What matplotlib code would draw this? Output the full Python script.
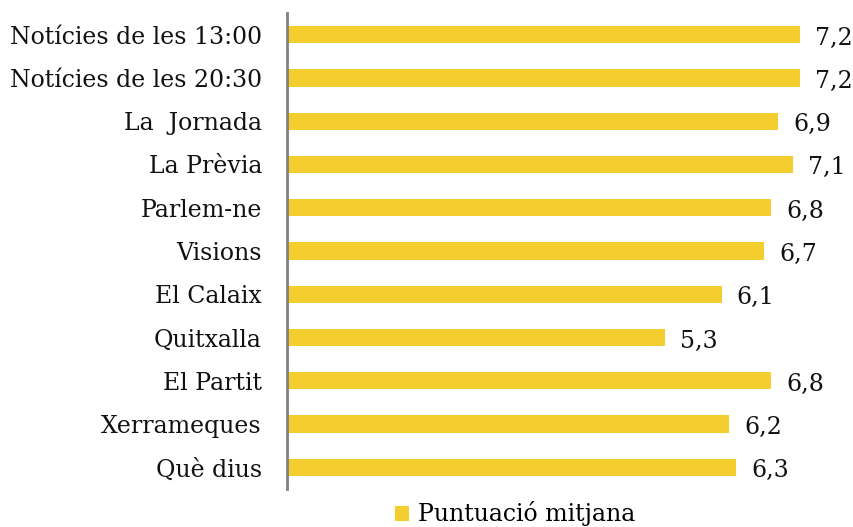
import matplotlib
matplotlib.use("Agg")
import matplotlib.pyplot as plt

categories = ["Notícies de les 13:00", "Notícies de les 20:30", "La  Jornada", "La Prèvia",
              "Parlem-ne", "Visions", "El Calaix", "Quitxalla", "El Partit", "Xerrameques", "Què dius"]
values = [7.2, 7.2, 6.9, 7.1, 6.8, 6.7, 6.1, 5.3, 6.8, 6.2, 6.3]
value_labels = ["7,2", "7,2", "6,9", "7,1", "6,8", "6,7", "6,1", "5,3", "6,8", "6,2", "6,3"]
series_name = "Puntuació mitjana"

plt.rcParams['font.family'] = ['DejaVu Serif']
color = "#F4CD2F"
fs = 17

fig = plt.figure(figsize=(8.54, 5.27), dpi=100)
ax = fig.add_axes([287/854, 38/527, (854-287)/854, 476/527])

y = list(range(len(categories)))[::-1]
bars = ax.barh(y, values, height=0.4, color=color, label=series_name)
for yi, v, lab in zip(y, values, value_labels):
    ax.annotate(lab, (v, yi), xytext=(11, -2.5), textcoords="offset points",
                ha="left", va="center", fontsize=fs, color="#111111")

ax.set_xlim(0, 7.96)
ax.set_ylim(-0.5, len(categories) - 0.5)
ax.set_yticks(y)
ax.set_yticklabels(categories, fontsize=fs, color="#111111")
ax.tick_params(axis="y", length=0, pad=18)
ax.set_xticks([])
for s in ["top", "right", "bottom"]:
    ax.spines[s].set_visible(False)
ax.spines["left"].set_color("#808080")
ax.spines["left"].set_linewidth(2)

fig.legend(handles=[bars], labels=[series_name], loc="center", bbox_to_anchor=(515/854, 13/527),
           frameon=False, fontsize=fs, handlelength=0.6, handleheight=0.6, handletextpad=0.4,
           borderpad=0)

fig.savefig("out.png", dpi=100)
